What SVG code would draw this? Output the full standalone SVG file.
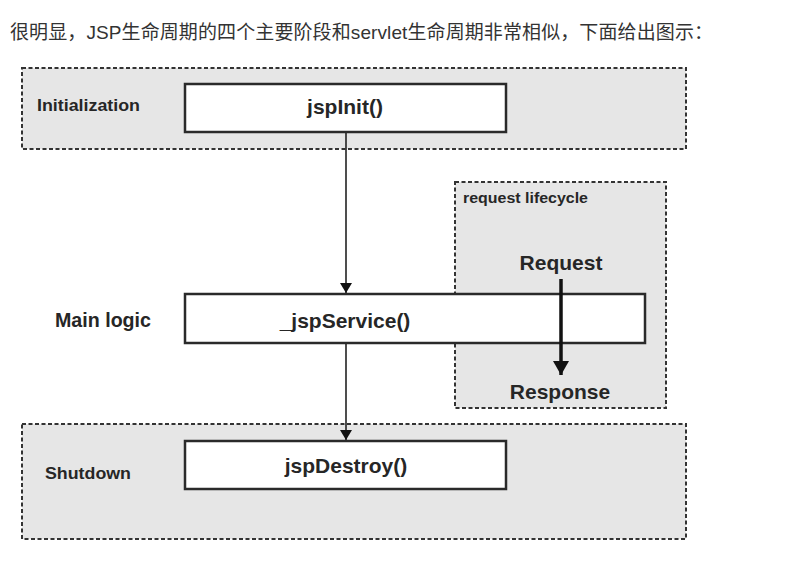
<svg xmlns="http://www.w3.org/2000/svg" width="785" height="563" viewBox="0 0 785 563">
<style>
.phase{fill:#e6e6e6;stroke:#333;stroke-width:2;stroke-dasharray:4 2.5}
.fn{fill:#fff;stroke:#2a2a2a;stroke-width:2.5}
.t{font-family:"Liberation Sans",Arial,sans-serif;font-weight:bold;fill:#262626}
.c{text-anchor:middle}
.ln{stroke:#222;stroke-width:1.6;fill:none}
</style>
<defs>
<marker id="ah" viewBox="0 0 10 12" refX="10" refY="6" markerWidth="10" markerHeight="12" markerUnits="userSpaceOnUse" orient="auto"><path d="M0,0 L10,6 L0,12 Z" fill="#111"/></marker>
<marker id="ahb" viewBox="0 0 14 16" refX="14" refY="8" markerWidth="14" markerHeight="16" markerUnits="userSpaceOnUse" orient="auto"><path d="M0,0 L14,8 L0,16 Z" fill="#111"/></marker>
</defs>
<rect width="785" height="563" fill="#fff"/>
<text x="10" y="39" font-family="'Liberation Sans','Noto Sans CJK SC',sans-serif" font-size="19" fill="#333" textLength="703" lengthAdjust="spacing">很明显，JSP生命周期的四个主要阶段和servlet生命周期非常相似，下面给出图示：</text>
<g id="initialization">
<rect class="phase" x="22" y="68" width="664" height="81"/>
<text class="t" x="37" y="111" font-size="17" textLength="103" lengthAdjust="spacingAndGlyphs">Initialization</text>
</g>
<g id="request-lifecycle">
<rect class="phase" x="455" y="182" width="211" height="226"/>
<text class="t" x="463" y="203" font-size="14" textLength="125" lengthAdjust="spacingAndGlyphs">request lifecycle</text>
<text class="t c" x="561" y="270" font-size="21">Request</text>
<text class="t c" x="560" y="399" font-size="21">Response</text>
</g>
<g id="shutdown">
<rect class="phase" x="22" y="424" width="664" height="115"/>
<text class="t" x="45" y="479" font-size="17" textLength="86" lengthAdjust="spacingAndGlyphs">Shutdown</text>
</g>
<g id="jspInit">
<rect class="fn" x="185" y="84" width="321" height="48"/>
<text class="t c" x="345" y="114" font-size="21">jspInit()</text>
</g>
<g id="main-logic">
<text class="t" x="55" y="327" font-size="20" textLength="96" lengthAdjust="spacingAndGlyphs">Main logic</text>
</g>
<g id="jspService">
<rect class="fn" x="185" y="294" width="460" height="49"/>
<text class="t c" x="345" y="328" font-size="21">_jspService()</text>
</g>
<g id="jspDestroy">
<rect class="fn" x="185" y="441" width="321" height="48"/>
<text class="t c" x="346" y="473" font-size="21">jspDestroy()</text>
</g>
<g id="connectors">
<line class="ln" x1="346" y1="133" x2="346" y2="293" marker-end="url(#ah)"/>
<line class="ln" x1="346" y1="344" x2="346" y2="440" marker-end="url(#ah)"/>
<line x1="561" y1="279" x2="561" y2="375" stroke="#111" stroke-width="3.5" marker-end="url(#ahb)"/>
</g>
</svg>
